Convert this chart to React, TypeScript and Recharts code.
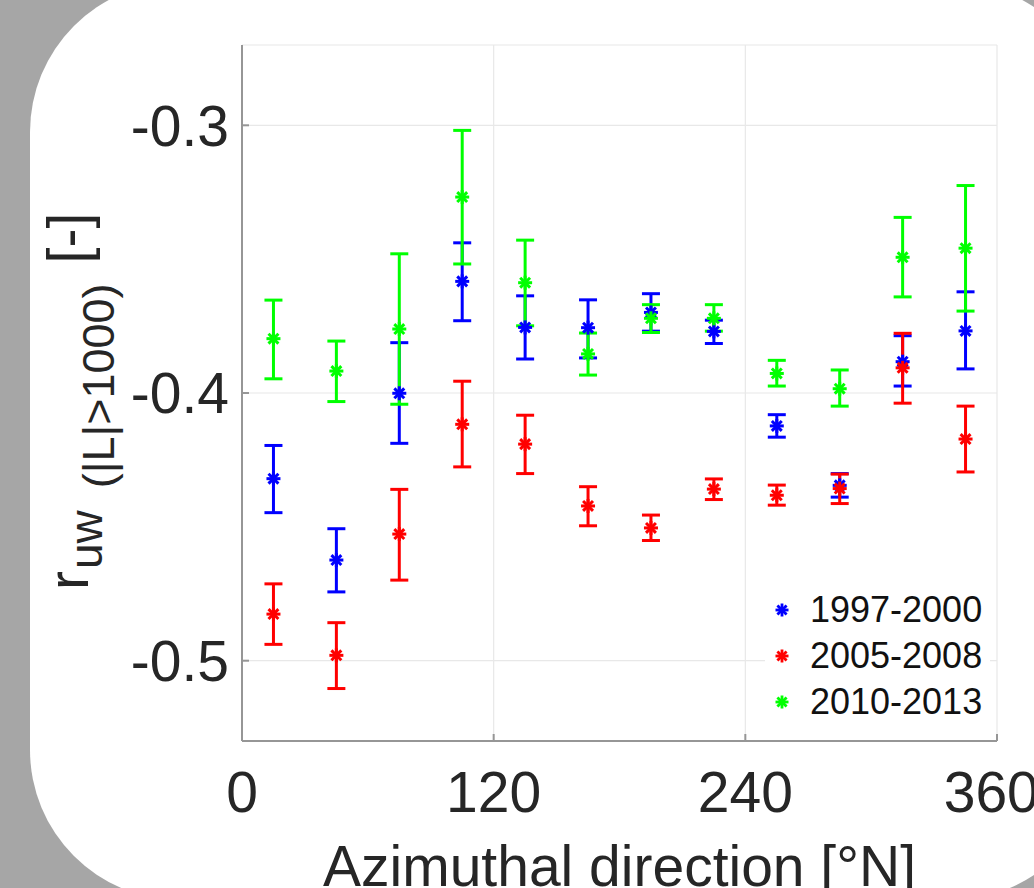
import React from 'react';
import {
    ScatterChart,
    Scatter,
    XAxis,
    YAxis,
    CartesianGrid,
    ErrorBar,
    Legend
} from 'recharts';

// azimuth bin centres [°N]
const azimuth = [15, 45, 75, 105, 135, 165, 195, 225, 255, 285, 315, 345];

// 1997-2000
const r1997 = [-0.4320, -0.4624, -0.4001, -0.3583, -0.3755, -0.3756, -0.3699, -0.3770, -0.4123, -0.4345, -0.3883, -0.3768];
const r1997Hi = [-0.4196, -0.4507, -0.3812, -0.3439, -0.3637, -0.3652, -0.3629, -0.3728, -0.4081, -0.4301, -0.3786, -0.3622];
const r1997Lo = [-0.4447, -0.4743, -0.4188, -0.3730, -0.3873, -0.3869, -0.3769, -0.3815, -0.4165, -0.4389, -0.3974, -0.3910];

// 2005-2008
const r2005 = [-0.4826, -0.4980, -0.4527, -0.4117, -0.4191, -0.4422, -0.4504, -0.4359, -0.4382, -0.4357, -0.3906, -0.4172];
const r2005Hi = [-0.4713, -0.4858, -0.4360, -0.3956, -0.4083, -0.4350, -0.4456, -0.4321, -0.4344, -0.4303, -0.3777, -0.4049];
const r2005Lo = [-0.4939, -0.5104, -0.4699, -0.4276, -0.4301, -0.4496, -0.4551, -0.4398, -0.4419, -0.4413, -0.4038, -0.4295];

// 2010-2013
const r2010 = [-0.3797, -0.3918, -0.3761, -0.3268, -0.3588, -0.3854, -0.3721, -0.3721, -0.3927, -0.3984, -0.3493, -0.3459];
const r2010Hi = [-0.3653, -0.3806, -0.3480, -0.3019, -0.3429, -0.3776, -0.3670, -0.3670, -0.3878, -0.3914, -0.3344, -0.3225];
const r2010Lo = [-0.3947, -0.4032, -0.4042, -0.3518, -0.3749, -0.3933, -0.3774, -0.3769, -0.3974, -0.4049, -0.3641, -0.3694];

const xTicks = [0, 120, 240, 360];
const yTicks = [-0.5, -0.4, -0.3];

const FONT = '"Liberation Sans", Arial, Helvetica, sans-serif';
const AXIS_GRAY = '#969696';

const build = (mid: number[], hi: number[], lo: number[]) =>
    azimuth.map((az, i) => ({ az, r: mid[i], err: [mid[i] - lo[i], hi[i] - mid[i]] }));

const series = [
    { name: '1997-2000', color: '#0000ff', data: build(r1997, r1997Hi, r1997Lo) },
    { name: '2005-2008', color: '#ff0000', data: build(r2005, r2005Hi, r2005Lo) },
    { name: '2010-2013', color: '#00ff00', data: build(r2010, r2010Hi, r2010Lo) },
];

const Asterisk = ({ cx, cy, color, r = 7, sw = 3 }: any) => {
    const d = r * 0.7071;
    return (
        <g stroke={color} strokeWidth={sw}>
            <line x1={cx} y1={cy - r} x2={cx} y2={cy + r} />
            <line x1={cx - r} y1={cy} x2={cx + r} y2={cy} />
            <line x1={cx - d} y1={cy - d} x2={cx + d} y2={cy + d} />
            <line x1={cx - d} y1={cy + d} x2={cx + d} y2={cy - d} />
        </g>
    );
};

const renderLegend = () => (
    <div style={{ background: '#fff', fontFamily: FONT, fontSize: 36, color: '#111' }}>
        {series.map((s) => (
            <div key={s.name} style={{ display: 'flex', alignItems: 'center', height: 46 }}>
                <svg width={45} height={46} style={{ flexShrink: 0 }}>
                    <Asterisk cx={17} cy={23} color={s.color} r={6.5} sw={2.8} />
                </svg>
                <span style={{ lineHeight: '46px' }}>{s.name}</span>
            </div>
        ))}
    </div>
);

const YLabel = () => (
    <text
        transform="translate(88, 590) rotate(-90)"
        textAnchor="start"
        fontFamily={FONT}
        fill="#262626"
        fontSize={57}
    >
        <tspan>r</tspan>
        <tspan fontSize={46} dx={2} dy={14}>uw</tspan>
        <tspan fontSize={45} dx={22} dy={12}>(|L|&gt;1000)</tspan>
        <tspan fontSize={57} dx={20} dy={-26}>[-]</tspan>
    </text>
);

const App: React.FC = () => {
    return (
        <div style={{ position: 'relative', width: 1034, height: 888, background: '#a6a6a6', overflow: 'hidden' }}>
            <style>{`body { margin: 0; }`}</style>
            <div
                style={{
                    position: 'absolute',
                    left: 30,
                    top: -18,
                    width: 1071,
                    height: 918,
                    borderRadius: 150,
                    background: '#fff',
                }}
            />
            <div style={{ position: 'absolute', left: 0, top: 0 }}>
                <ScatterChart width={1034} height={888} margin={{ top: 45, right: 37, bottom: 0, left: 0 }}>
                    <CartesianGrid stroke="#e8e8e8" strokeWidth={1.2} />
                    <XAxis
                        dataKey="az"
                        type="number"
                        domain={[0, 360]}
                        ticks={xTicks}
                        allowDataOverflow
                        height={147}
                        tickSize={-7}
                        tickMargin={38}
                        axisLine={{ stroke: AXIS_GRAY, strokeWidth: 2 }}
                        tickLine={{ stroke: AXIS_GRAY, strokeWidth: 2 }}
                        tick={{ fontSize: 57, fill: '#262626', fontFamily: FONT }}
                        label={{
                            value: 'Azimuthal direction [°N]',
                            position: 'insideBottom',
                            offset: 2,
                            fontSize: 57,
                            fill: '#262626',
                            fontFamily: FONT,
                        }}
                    />
                    <XAxis
                        xAxisId="top"
                        orientation="top"
                        type="number"
                        domain={[0, 360]}
                        ticks={xTicks}
                        height={0}
                        tick={false}
                        tickSize={-7}
                        axisLine={{ stroke: AXIS_GRAY, strokeWidth: 2 }}
                        tickLine={{ stroke: AXIS_GRAY, strokeWidth: 2 }}
                    />
                    <YAxis
                        dataKey="r"
                        type="number"
                        domain={[-0.53, -0.27]}
                        ticks={yTicks}
                        allowDataOverflow
                        width={242}
                        tickSize={-7}
                        tickMargin={20}
                        tickFormatter={(v: number) => v.toFixed(1)}
                        axisLine={{ stroke: AXIS_GRAY, strokeWidth: 2 }}
                        tickLine={{ stroke: AXIS_GRAY, strokeWidth: 2 }}
                        tick={{ fontSize: 57, fill: '#262626', fontFamily: FONT }}
                        label={<YLabel />}
                    />
                    <YAxis
                        yAxisId="right"
                        orientation="right"
                        type="number"
                        domain={[-0.53, -0.27]}
                        ticks={yTicks}
                        width={0}
                        tick={false}
                        tickSize={-7}
                        axisLine={{ stroke: AXIS_GRAY, strokeWidth: 2 }}
                        tickLine={{ stroke: AXIS_GRAY, strokeWidth: 2 }}
                    />
                    {series.map((s) => (
                        <Scatter
                            key={s.name}
                            name={s.name}
                            data={s.data}
                            fill={s.color}
                            isAnimationActive={false}
                            shape={(p: any) => <Asterisk cx={p.cx} cy={p.cy} color={s.color} />}
                        >
                            <ErrorBar
                                dataKey="err"
                                direction="y"
                                width={9}
                                stroke={s.color}
                                strokeWidth={3}
                                isAnimationActive={false}
                            />
                        </Scatter>
                    ))}
                    <Legend
                        layout="vertical"
                        align="center"
                        verticalAlign="middle"
                        content={renderLegend}
                        wrapperStyle={{ left: 765, top: 587, width: 225 }}
                    />
                </ScatterChart>
            </div>
        </div>
    );
};

export default App;
